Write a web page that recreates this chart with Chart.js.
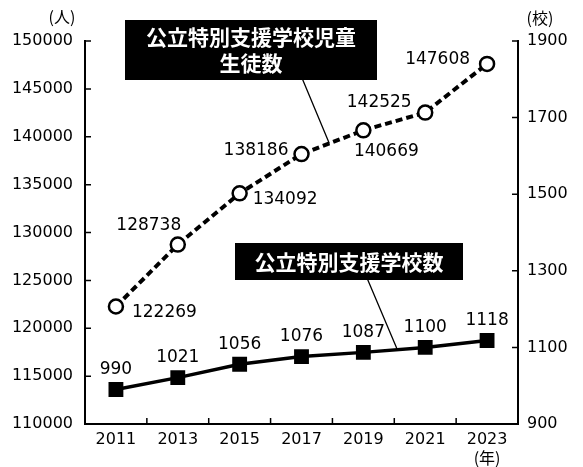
<!DOCTYPE html>
<html>
<head>
<meta charset="utf-8">
<script src="https://cdn.jsdelivr.net/npm/chart.js@4"></script>
<style>
  html, body { margin: 0; padding: 0; background: #fff; }
  #wrap { width: 583px; height: 467px; }
</style>
</head>
<body>
<div id="wrap"><canvas id="chart" width="583" height="467"></canvas></div>
<script>
// data
const years = ['2011', '2013', '2015', '2017', '2019', '2021', '2023'];
const students = [122269, 128738, 134092, 138186, 140669, 142525, 147608];
const schools = [990, 1021, 1056, 1076, 1087, 1100, 1118];
const leftTicks = [110000, 115000, 120000, 125000, 130000, 135000, 140000, 145000, 150000];
const rightTicks = [900, 1100, 1300, 1500, 1700, 1900];

const NUM_FONT = '"DejaVu Sans", sans-serif';
const JP_FONT = '"Noto Sans CJK JP", sans-serif';

// label placement per point: [align, dx, dy]
const studentLabelPos = [
  ['left', 16, 6], ['center', -29, -19], ['left', 13, 6], ['right', -13, -4],
  ['center', 23, 21], ['center', -46, -10], ['right', -17, -4]
];

// inside tick marks on all three axes
const innerTicks = {
  id: 'innerTicks',
  afterDraw(chart) {
    const { ctx, chartArea: a, scales } = chart;
    ctx.save();
    ctx.strokeStyle = '#000';
    ctx.lineWidth = 1.5;
    ctx.beginPath();
    scales.y.ticks.forEach(t => {
      const y = scales.y.getPixelForValue(t.value);
      ctx.moveTo(a.left, y); ctx.lineTo(a.left + 6, y);
    });
    scales.y1.ticks.forEach(t => {
      const y = scales.y1.getPixelForValue(t.value);
      ctx.moveTo(a.right, y); ctx.lineTo(a.right - 6, y);
    });
    for (let i = 0; i < years.length - 1; i++) {
      const x = (scales.x.getPixelForValue(i) + scales.x.getPixelForValue(i + 1)) / 2;
      ctx.moveTo(x, a.bottom); ctx.lineTo(x, a.bottom - 6);
    }
    ctx.stroke();
    ctx.restore();
  }
};

// value labels, unit labels and the two black name boxes
const labels = {
  id: 'labels',
  afterDatasetsDraw(chart) {
    const { ctx, scales } = chart;
    const sPts = chart.getDatasetMeta(0).data;
    const cPts = chart.getDatasetMeta(1).data;
    ctx.save();
    ctx.fillStyle = '#000';
    ctx.textBaseline = 'middle';
    ctx.font = '17px ' + NUM_FONT;
    sPts.forEach((p, i) => {
      const [al, dx, dy] = studentLabelPos[i];
      ctx.textAlign = al;
      ctx.fillText(students[i], p.x + dx, p.y + dy);
    });
    ctx.textAlign = 'center';
    cPts.forEach((p, i) => ctx.fillText(schools[i], p.x, p.y - 20));

    // units
    ctx.font = '16px ' + JP_FONT;
    ctx.fillText('(人)', 62, 17);
    ctx.fillText('(校)', 540, 18);
    ctx.fillText('(年)', scales.x.getPixelForValue(years.length - 1), 458);

    // leader lines
    const along = (pts, i, f) => ({ x: pts[i].x + (pts[i + 1].x - pts[i].x) * f, y: pts[i].y + (pts[i + 1].y - pts[i].y) * f });
    const e1 = along(sPts, 3, 0.45);
    const e2 = along(cPts, 4, 0.55);
    ctx.strokeStyle = '#000';
    ctx.lineWidth = 1.3;
    ctx.beginPath();
    ctx.moveTo(302, 78); ctx.lineTo(e1.x, e1.y);
    ctx.moveTo(367, 278); ctx.lineTo(e2.x, e2.y);
    ctx.stroke();

    // boxes
    ctx.fillStyle = '#000';
    ctx.fillRect(125, 20, 252, 60);
    ctx.fillRect(235, 243, 228, 37);
    ctx.fillStyle = '#fff';
    ctx.font = 'bold 21px ' + JP_FONT;
    ctx.fillText('公立特別支援学校児童', 251, 37);
    ctx.fillText('生徒数', 251, 63);
    ctx.fillText('公立特別支援学校数', 349, 262);
    ctx.restore();
  }
};

new Chart(document.getElementById('chart'), {
  type: 'line',
  data: {
    labels: years,
    datasets: [
      {
        label: '公立特別支援学校児童生徒数',
        data: students,
        yAxisID: 'y',
        borderColor: '#000',
        borderWidth: 4,
        borderDash: [7, 4],
        pointStyle: 'circle',
        pointRadius: 7,
        pointBorderWidth: 2.5,
        pointBorderColor: '#000',
        pointBackgroundColor: '#fff',
        tension: 0
      },
      {
        label: '公立特別支援学校数',
        data: schools,
        yAxisID: 'y1',
        borderColor: '#000',
        borderWidth: 3.5,
        pointStyle: 'rect',
        pointRadius: 10.5,
        pointBorderWidth: 0,
        pointBackgroundColor: '#000',
        tension: 0
      }
    ]
  },
  options: {
    responsive: false,
    devicePixelRatio: 1,
    animation: false,
    layout: { padding: { top: 41, left: 0, right: 0, bottom: 0 } },
    plugins: {
      legend: { display: false },
      tooltip: { enabled: false }
    },
    scales: {
      x: {
        offset: true,
        grid: { display: false, drawTicks: false },
        border: { display: true, color: '#000', width: 2 },
        ticks: { color: '#000', padding: 6, font: { family: NUM_FONT, size: 16 }, maxRotation: 0 },
        afterFit: s => { s.height = 43; }
      },
      y: {
        position: 'left',
        min: 110000,
        max: 150000,
        afterBuildTicks: s => { s.ticks = leftTicks.map(v => ({ value: v })); },
        grid: { display: false, drawTicks: false },
        border: { display: true, color: '#000', width: 2 },
        ticks: { color: '#000', padding: 12, font: { family: NUM_FONT, size: 16 }, callback: v => String(v) },
        afterFit: s => { s.width = 85; }
      },
      y1: {
        position: 'right',
        min: 900,
        max: 1900,
        afterBuildTicks: s => { s.ticks = rightTicks.map(v => ({ value: v })); },
        grid: { display: false, drawTicks: false },
        border: { display: true, color: '#000', width: 2 },
        ticks: { color: '#000', padding: 9, font: { family: NUM_FONT, size: 16 }, callback: v => String(v) },
        afterFit: s => { s.width = 65; }
      }
    }
  },
  plugins: [innerTicks, labels]
});
</script>
</body>
</html>
